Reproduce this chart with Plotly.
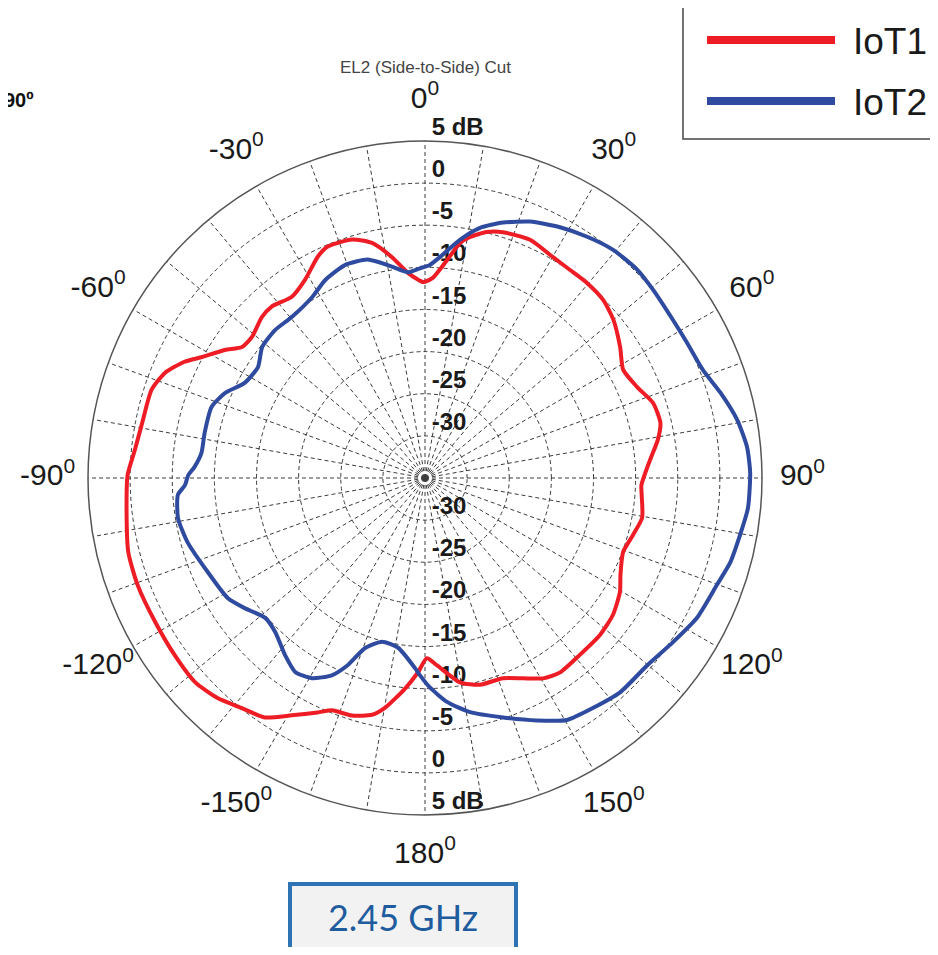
import plotly.graph_objects as go

# ---------------- data ----------------
series_names = ["IoT1", "IoT2"]
series_colors = ["#ee1c25", "#2f4ba0"]

iot1_theta = [0, 2.3, 5.8, 8.5, 10.6, 14.1, 17.6, 23.8, 30.1, 34.9, 39.7, 45, 50, 56.1, 61.4,
              66.8, 71.8, 76.8, 80.7, 85.4, 91.9, 94.5, 100.4, 105.3, 110.5, 116.4, 120.3,
              126.1, 131.9, 138.8, 145.2, 149.5, 158.7, 165.1, 170.3, 176.3, 179.4, 182.1,
              185.4, 189.9, 192.6, 197.1, 201.8, 204.6, 209.3, 213.8, 218.5, 223.3, 228.4,
              234.7, 241.9, 249.6, 256, 264.3, 270.6, 275.5, 281, 287.9, 292, 295.8, 298.5,
              302.6, 305.6, 309.2, 314.6, 318.2, 323.7, 328.8, 334.2, 337.2, 343, 347.3,
              351.5, 355.3, 359.1]
iot1_db = [-11.7, -11.2, -9.0, -6.8, -5.9, -4.9, -4.4, -4.1, -4.7, -4.9, -4.9, -5.1, -5.8, -7.1,
           -8.2, -7.6, -6.5, -6.3, -7.0, -8.2, -9.3, -9.2, -8.8, -9.4, -9.9, -9.1, -8.2, -7.4,
           -7.1, -7.1, -6.9, -7.4, -9.5, -9.6, -10.4, -12.7, -13.6, -11.9, -9.9, -7.3, -6.2,
           -5.5, -5.3, -4.4, -2.7, -0.8, -0.1, 0.9, 1.5, 1.4, 1.3, 1.4, 1.3, 0.6, 0.3, -0.4,
           -0.8, -0.9, -1.7, -3.3, -4.9, -6.8, -8.3, -8.5, -7.8, -7.7, -8.3, -7.5, -5.8, -5.2,
           -5.4, -6.4, -8.5, -10.6, -11.7]

iot2_theta = [1.3, 3.9, 8.4, 12.4, 17, 22.3, 28.3, 33.9, 39.5, 45.5, 50.5, 57.5, 62.7, 68.8,
              73.9, 79.5, 84.5, 89.1, 95.3, 100.3, 105.4, 110.1, 117.2, 123.5, 130.1, 137.7,
              143.9, 149.6, 155.2, 161.9, 169.1, 174.4, 178.6, 181.5, 183, 189, 194.7, 199.4,
              202.4, 205.3, 209.5, 213.8, 218.3, 224.2, 228.8, 234.2, 238.6, 246.6, 254.9,
              260.8, 266.1, 268.3, 270.7, 272.7, 276.4, 281.6, 288.4, 293, 297.8, 303.6,
              308.8, 314.6, 320.4, 328, 333.2, 339.4, 345.3, 351.1, 355.3, 358.6]
iot2_db = [-9.7, -8.7, -6.4, -4.6, -3.3, -2.1, -1.2, -0.5, 0.1, 0.3, 0.1, -0.1, 0.0, 0.4, 1.5,
           2.7, 3.4, 3.6, 3.5, 3.0, 2.6, 1.9, 1.3, 0.3, -0.5, -0.6, -1.2, -1.7, -3.3, -5.1,
           -6.7, -8.3, -10.1, -11.6, -12.4, -14.6, -14.9, -13.6, -11.0, -9.1, -7.7, -7.3,
           -8.2, -9.5, -9.8, -8.6, -7.6, -6.9, -5.8, -5.3, -5.6, -6.5, -6.9, -7.6, -8.3, -8.3,
           -8.3, -9.2, -10.8, -11.2, -10.2, -10.0, -10.2, -9.7, -8.7, -8.0, -8.2, -9.6, -10.5,
           -10.1]

radial_ticks = [5, 0, -5, -10, -15, -20, -25, -30]
radial_ticktext = ["5 dB", "0", "-5", "-10", "-15", "-20", "-25", "-30"]
angle_grid = list(range(0, 360, 10))
angle_labels = [0, 30, 60, 90, 120, 150, 180, -150, -120, -90, -60, -30]

title_text = "EL2 (Side-to-Side) Cut"
freq_text = "2.45 GHz"
corner_text = "90º"

# ---------------- figure ----------------
OFF = 8                      # default body margin of the html page
W, H = 938 - 2 * OFF, 955 - 2 * OFF
FONT = "Liberation Sans, Arial, sans-serif"
GRID = "#3c3c3c"
R_MIN, R_MAX = -35, 5
CX, CY, RAD = 425, 478, 337  # page position of the plot circle
LABEL_R = 9.8                # radius (in dB units) at which angle labels sit
R2_MAX = 12                  # range of the label-only overlay subplot
RAD2 = RAD * (R2_MAX - R_MIN) / (R_MAX - R_MIN)


def px(x):
    return (x - OFF) / W


def py(y):
    return 1 - (y - OFF) / H


fig = go.Figure()

# radial dB labels (above and below the centre along the vertical axis)
lab_r = radial_ticks + radial_ticks
lab_t = [0] * len(radial_ticks) + [180] * len(radial_ticks)
lab_s = ["\u00a0" + s for s in radial_ticktext + radial_ticktext]
fig.add_trace(go.Scatterpolar(
    r=lab_r, theta=lab_t, text=lab_s, mode="text", textposition="top right",
    textfont=dict(family=FONT, size=24, color="#1a1a1a", weight="bold"),
    cliponaxis=False, showlegend=False, hoverinfo="skip"))

for th, rr, name, col in [(iot1_theta, iot1_db, series_names[0], series_colors[0]),
                          (iot2_theta, iot2_db, series_names[1], series_colors[1])]:
    fig.add_trace(go.Scatterpolar(
        r=rr + [rr[0]], theta=th + [th[0]], mode="lines", name=name,
        line=dict(color=col, width=4, shape="spline", smoothing=0.6),
        showlegend=False))

# angle labels, centred on a circle just outside the plot (label-only subplot)
fig.add_trace(go.Scatterpolar(
    r=[LABEL_R] * len(angle_labels), theta=angle_labels,
    text=[f"{a}<sup>0</sup>" for a in angle_labels], mode="text",
    textposition="middle center", subplot="polar2",
    textfont=dict(family=FONT, size=30, color="#1a1a1a"),
    cliponaxis=False, showlegend=False, hoverinfo="skip"))

hidden_axis = dict(showgrid=False, showline=False, showticklabels=False, ticks="")

fig.update_layout(
    width=W, height=H,
    margin=dict(l=0, r=0, t=0, b=0),
    paper_bgcolor="white",
    showlegend=False,
    polar=dict(
        domain=dict(x=[px(CX - RAD), px(CX + RAD)], y=[py(CY + RAD), py(CY - RAD)]),
        bgcolor="white",
        radialaxis=dict(
            range=[R_MIN, R_MAX], tickvals=radial_ticks[1:], showticklabels=False,
            ticks="", showline=False, gridcolor=GRID, gridwidth=1.2, griddash="4px,3px",
            layer="below traces"),
        angularaxis=dict(
            rotation=90, direction="clockwise", tickvals=angle_grid,
            showticklabels=False, ticks="",
            showline=True, linecolor="#555555", linewidth=1.5,
            gridcolor=GRID, gridwidth=1.2, griddash="4px,3px", layer="below traces"),
    ),
    polar2=dict(
        domain=dict(x=[px(CX - RAD2), px(CX + RAD2)], y=[py(CY + RAD2), py(CY - RAD2)]),
        bgcolor="rgba(0,0,0,0)",
        radialaxis=dict(range=[R_MIN, R2_MAX], **hidden_axis),
        angularaxis=dict(rotation=90, direction="clockwise", **hidden_axis),
    ),
)

annotations = [
    dict(text=title_text, x=px(425), y=py(68), xref="paper", yref="paper",
         xanchor="center", yanchor="middle",
         showarrow=False, font=dict(family=FONT, size=17, color="#444444")),
    dict(text=f"<b>{corner_text}</b>", x=px(36), y=py(100), xref="paper", yref="paper",
         xanchor="right", yanchor="middle", showarrow=False,
         font=dict(family=FONT, size=20, color="#111111")),
    dict(text=freq_text, x=px(403), y=py(917), xref="paper", yref="paper",
         xanchor="center", yanchor="middle",
         showarrow=False, width=222, height=62, bgcolor="#f2f2f2",
         bordercolor="#2e74b5", borderwidth=4, borderpad=0,
         font=dict(family="Lato, Noto Sans, sans-serif", size=36, color="#1f5c9e")),
]

# legend box drawn like the original (long line samples)
shapes = [dict(type="rect", xref="paper", yref="paper", x0=px(683), x1=px(950),
               y0=py(139), y1=py(2), line=dict(color="#444444", width=1.5),
               fillcolor="white")]
for i, (name, col) in enumerate(zip(series_names, series_colors)):
    yy = 40 + 61 * i
    shapes.append(dict(type="line", xref="paper", yref="paper", x0=px(707), x1=px(835),
                       y0=py(yy), y1=py(yy), line=dict(color=col, width=8)))
    annotations.append(dict(text=name, x=px(851), y=py(yy + 2), xref="paper", yref="paper",
                            xanchor="left", yanchor="middle", showarrow=False,
                            font=dict(family=FONT, size=37, color="#1a1a1a")))

fig.update_layout(annotations=annotations, shapes=shapes)

fig.write_html("out.html")
